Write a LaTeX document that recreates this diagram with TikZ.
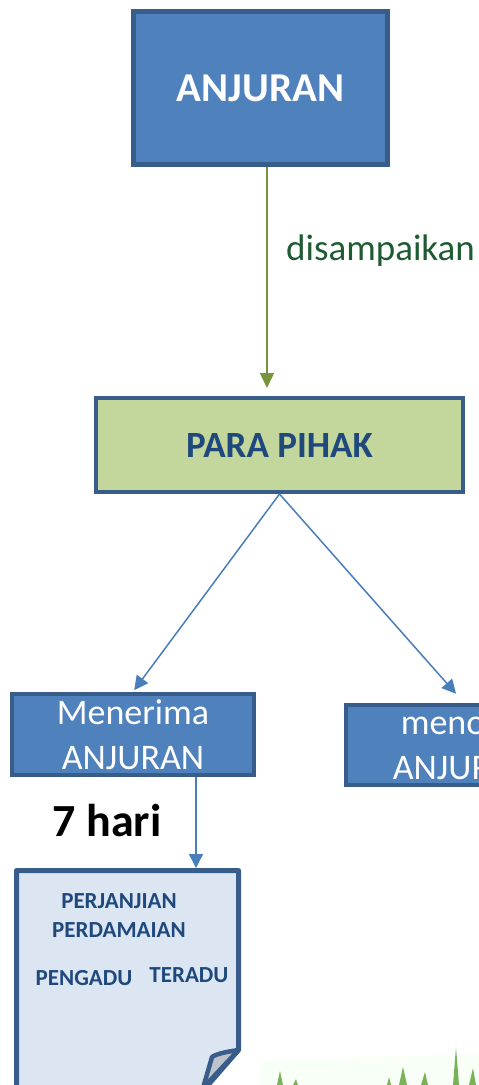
\documentclass[tikz,border=0pt]{standalone}
\usepackage{fontspec}
\setmainfont{Carlito}
\usetikzlibrary{arrows.meta}
\definecolor{bordblue}{HTML}{385D8A}
\definecolor{fillblue}{HTML}{4F81BD}
\definecolor{fillgreen}{HTML}{C3D69B}
\definecolor{txtblue}{HTML}{1F497D}
\definecolor{olive}{HTML}{77933C}
\definecolor{dkgreen}{HTML}{1E5B32}
\definecolor{docfill}{HTML}{DCE6F2}
\definecolor{arrblue}{HTML}{4A7EBB}
\definecolor{flapgrey}{HTML}{BCC3CC}
\definecolor{grass}{HTML}{4E9A22}
\tikzset{
  bluebox/.style={draw=bordblue, fill=fillblue, line width=4.5pt, inner sep=0pt, text=white, align=center},
  greenbox/.style={draw=bordblue, fill=fillgreen, line width=4pt, inner sep=0pt, text=txtblue, font=\fontsize{37}{44}\selectfont\bfseries},
  greenarrow/.style={draw=olive, line width=1.5pt, -{Triangle[length=15pt,width=14pt]}},
  bluearrow/.style={draw=arrblue, line width=1.5pt, -{Triangle[length=14pt,width=14pt]}},
  doctext/.style={text=txtblue, font=\fontsize{23}{28}\selectfont\bfseries, inner sep=0pt},
  blade/.style={fill=grass, draw=none, opacity=0.75}
}
\begin{document}
\begin{tikzpicture}[x=1pt,y=-1pt]
\useasboundingbox (0,0) rectangle (479,1085);
\begin{scope}
\clip (0,0) rectangle (479,1085);
% grass
\fill[green!20!white, opacity=0.15] (262,1085) -- (262,1062) .. controls (330,1058) and (420,1056) .. (479,1054) -- (479,1085) -- cycle;
\fill[blade] (277,1085) -- (280,1071) -- (283,1085) -- cycle;
\fill[blade] (293,1085) -- (296,1079) -- (298,1085) -- cycle;
\fill[blade] (387,1085) -- (389,1077) -- (391,1085) -- cycle;
\fill[blade] (399,1085) -- (403,1067) -- (407,1085) -- cycle;
\fill[blade] (421,1085) -- (425,1072) -- (428,1085) -- cycle;
\fill[blade] (453,1085) -- (456,1047) -- (459,1085) -- cycle;
\fill[blade] (469,1085) -- (473,1068) -- (476,1085) -- cycle;

\node[bluebox, minimum width=254pt, minimum height=153pt, font=\fontsize{41}{48}\selectfont\bfseries] (anj) at (260.5,88) {ANJURAN};
\node[greenbox, minimum width=367pt, minimum height=94pt] (para) at (279.5,445) {PARA PIHAK};
\node[bluebox, minimum width=242pt, minimum height=81pt, font=\fontsize{36}{45}\selectfont] (mener) at (133,734.5) {Menerima\\ANJURAN};
\node[bluebox, minimum width=236pt, minimum height=80pt, font=\fontsize{36}{45}\selectfont] (menol) at (464,745) {menolak\\ANJURAN};

\coordinate (gx) at (267,0);
\draw[greenarrow, shorten >=8pt] (anj.south -| gx) -- (para.north -| gx);
\node[text=dkgreen, font=\fontsize{37}{44}\selectfont, anchor=west, inner sep=0pt] (dis) at (286,251) {disampaikan};

\draw[bluearrow, shorten >=2pt] (para.south) -- (mener.north);
\draw[bluearrow, shorten >=12pt] (para.south) -- (menol.north);

\node[font=\fontsize{46}{52}\selectfont\bfseries, inner sep=0pt] (hari) at (107,821) {7 hari};

% document
\coordinate (doctop) at (196,868);
\node[minimum width=227pt, minimum height=217pt, inner sep=0pt] (doc) at (127.5,976.5) {};
\draw[bordblue, fill=docfill, line width=5pt, line join=round]
  (16.5,1100) -- (16.5,870.5) -- (238.5,870.5) -- (238.5,1050) -- (201,1093);
\draw[bordblue, fill=flapgrey, line width=4.5pt, line join=round]
  (238.5,1050) .. controls (225,1052) and (216,1054) .. (212,1057) -- (203,1088) -- cycle;
\draw[bluearrow] (mener.south -| doctop) -- (doctop);

\node[doctext] (t1) at (119,901) {PERJANJIAN};
\node[doctext] (t2) at (119,930) {PERDAMAIAN};
\node[doctext] (t3) at (84,978) {PENGADU};
\node[doctext] (t4) at (189,975) {TERADU};
\end{scope}
\end{tikzpicture}
\end{document}
